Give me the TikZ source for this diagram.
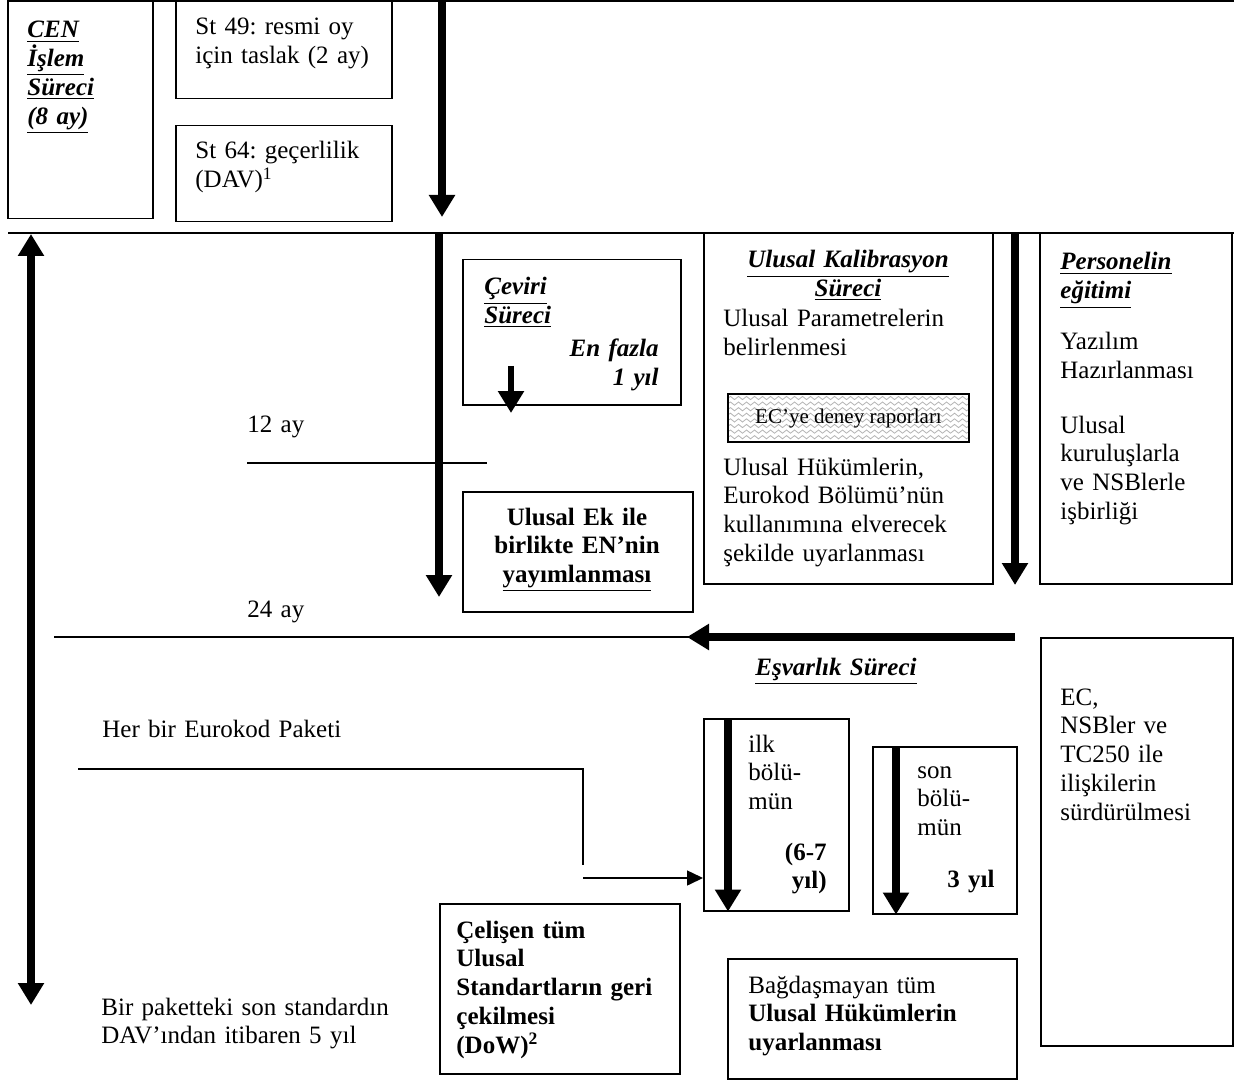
\documentclass[tikz,border=0pt]{standalone}
\usepackage{fontspec}
\setmainfont{Liberation Serif}
\usepackage{tikz}
\usetikzlibrary{arrows.meta}
\usetikzlibrary{decorations.pathmorphing}

\newcommand{\bui}[1]{\textbf{\textit{\underline{#1}}}}
\frenchspacing

\begin{document}
\begin{tikzpicture}[x=0.5pt, y=-0.5pt, font=\fontsize{12.5}{14.4}\selectfont,
    box/.style={draw, line width=0.75pt, anchor=north west, inner sep=0pt},
    txt/.style={anchor=base west, inner sep=0pt, align=left, text width=#1},
    rtxt/.style={anchor=base east, inner sep=0pt, align=right, text width=#1},
    ctxt/.style={anchor=base, inner sep=0pt, align=center, text width=#1},
    tline/.style={line width=0.75pt},
    fat/.style={line width=3.6pt, -{Triangle[width=12.5pt, length=11pt]}},
    fatboth/.style={line width=3.6pt, {Triangle[width=12.5pt, length=11pt]}-{Triangle[width=12.5pt, length=11pt]}},
    wavy/.style={path picture={
        \foreach \k in {1,...,8}
            \draw[gray!60, line width=0.4pt, decorate, decoration={snake, amplitude=0.8pt, segment length=4pt}]
                ([yshift={-2.8pt*\k+0.8pt}]path picture bounding box.north west) -- ([yshift={-2.8pt*\k+0.8pt}]path picture bounding box.north east);}}]
    \useasboundingbox (0,0) rectangle (1234,1090);

    % time lines
    \coordinate (topL) at (7,1);
    \coordinate (topR) at (1234,1);
    \coordinate (midL) at (8,233);
    \coordinate (midR) at (1234,233);
    \draw[tline] (topL) -- (topR);
    \draw[line width=1pt] (midL) -- (midR);

    % CEN step
    \node[box, minimum width=72.5pt, minimum height=108.5pt] (cen) at (7,1) {};
    \node[txt=60pt] (cent) at (27,38) {\bui{CEN}\\ \bui{İşlem}\\ \bui{Süreci}\\ \bui{(8 ay)}};
    \node[box, minimum width=108pt, minimum height=48.5pt] (st49) at (175,1) {};
    \node[txt=96pt] (st49t) at (195,35) {St 49: resmi oy\\ için taslak (2 ay)};
    \node[box, minimum width=108pt, minimum height=48pt] (st64) at (175,125) {};
    \node[txt=96pt] (st64t) at (195,159) {St 64: geçerlilik\\ (DAV)\textsuperscript{1}};
    \coordinate (a1s) at (442,1);
    \coordinate (a1e) at (442,217);
    \draw[fat] (a1s) -- (a1e);

    % left span
    \coordinate (lt) at (31,234);
    \coordinate (lb) at (31,1005);
    \draw[fatboth] (lt) -- (lb);

    % translation
    \coordinate (a2s) at (439,234);
    \coordinate (a2e) at (439,597);
    \draw[fat] (a2s) -- (a2e);
    \node[box, minimum width=109pt, minimum height=72.5pt] (cev) at (462,259) {};
    \node[txt=80pt] (cevt) at (484,295) {\bui{Çeviri}\\ \bui{Süreci}};
    \node[rtxt=80pt] (cevr) at (659,357) {\textbf{\textit{En fazla}}\\ \textbf{\textit{1 yıl}}};
    \coordinate (cv1) at (511,366);
    \coordinate (cv2) at (511,413);
    \draw[fat, line width=3pt] (cv1) -- (cv2);

    \node[txt=40pt] (ay12) at (247,432) {12 ay};
    \coordinate (l12a) at (247,463);
    \coordinate (l12b) at (487,463);
    \draw[tline] (l12a) -- (l12b);

    \node[box, minimum width=115pt, minimum height=60pt] (ulek) at (462,491) {};
    \node[ctxt=112pt] (ulekt) at (577,525) {\textbf{Ulusal Ek ile}\\ \textbf{birlikte EN’nin}\\ \textbf{\underline{yayımlanması}}};

    \node[txt=40pt] (ay24) at (247,617) {24 ay};

    % calibration
    \node[box, minimum width=144.5pt, minimum height=175pt] (kal) at (703,233) {};
    \node[ctxt=140pt] (kalt) at (848,268) {\bui{Ulusal Kalibrasyon}\\ \bui{Süreci}};
    \node[txt=130pt] (kalp) at (723,327) {Ulusal Parametrelerin\\ belirlenmesi};
    \node[box, wavy, line width=1pt, minimum width=120.5pt, minimum height=24pt] (ecr) at (727,393)
        {\fontsize{10.5}{12}\selectfont EC’ye deney raporları};
    \node[txt=130pt] (kalh) at (723,475) {Ulusal Hükümlerin,\\ Eurokod Bölümü’nün\\ kullanımına elverecek\\ şekilde uyarlanması};
    \coordinate (a3s) at (1015,233);
    \coordinate (a3e) at (1015,585);
    \draw[fat] (a3s) -- (a3e);

    \node[box, minimum width=96pt, minimum height=175pt] (pers) at (1039,233) {};
    \node[txt=85pt] (perst) at (1060,270) {\bui{Personelin}\\ \bui{eğitimi}\\[11pt] Yazılım\\ Hazırlanması\\[13pt] Ulusal\\ kuruluşlarla\\ ve NSBlerle\\ işbirliği};

    % back arrow
    \coordinate (l24a) at (54,637);
    \coordinate (l24b) at (1015,637);
    \coordinate (l24c) at (687,637);
    \draw[line width=1pt] (l24a) -- (l24b);
    \draw[fat] (l24b) -- (l24c);

    % coexistence
    \node[ctxt=120pt] (esv) at (836,675) {\bui{Eşvarlık Süreci}};
    \node[box, minimum width=96pt, minimum height=204pt] (ecn) at (1040,637) {};
    \node[txt=85pt] (ecnt) at (1060,705) {EC,\\ NSBler ve\\ TC250 ile\\ ilişkilerin\\ sürdürülmesi};

    \node[box, minimum width=72.5pt, minimum height=96pt] (ilk) at (703,718) {};
    \draw[fat] ([xshift=12.5pt]ilk.north west) -- ([xshift=12.5pt]ilk.south west);
    \node[txt=40pt] (ilkt) at (748,752) {ilk\\ bölü-\\ mün};
    \node[rtxt=40pt] (ilkr) at (827,860) {\textbf{(6-7}\\ \textbf{yıl)}};

    \node[box, minimum width=72pt, minimum height=83.5pt] (son) at (872,746) {};
    \draw[fat] ([xshift=12pt]son.north west) -- ([xshift=12pt]son.south west);
    \node[txt=40pt] (sont) at (917,778) {son\\ bölü-\\ mün};
    \node[rtxt=40pt] (sonr) at (995,887) {\textbf{3 yıl}};

    \node[txt=150pt] (hb) at (102,737) {Her bir Eurokod Paketi};
    \coordinate (hb1) at (78,769);
    \coordinate (hb2) at (583,865);
    \coordinate (hb3) at (583,878);
    \draw[tline] (hb1) -| (hb2);
    \draw[tline, -{Triangle[width=7.5pt, length=8pt]}] (hb3) -- (hb3 -| ilk.west);

    % withdrawal
    \node[box, minimum width=120pt, minimum height=85pt] (cel) at (439,903) {};
    \node[txt=112pt] (celt) at (456,938) {\textbf{Çelişen tüm}\\ \textbf{Ulusal}\\ \textbf{Standartların geri}\\ \textbf{çekilmesi}\\ \textbf{(DoW)\textsuperscript{2}}};
    \node[box, minimum width=144.5pt, minimum height=60pt] (bag) at (727,958) {};
    \node[txt=130pt] (bagt) at (748,993) {Bağdaşmayan tüm\\ \textbf{Ulusal Hükümlerin}\\ \textbf{uyarlanması}};
    \node[txt=160pt] (bir) at (101,1015) {Bir paketteki son standardın\\ DAV’ından itibaren 5 yıl};
\end{tikzpicture}
\end{document}
